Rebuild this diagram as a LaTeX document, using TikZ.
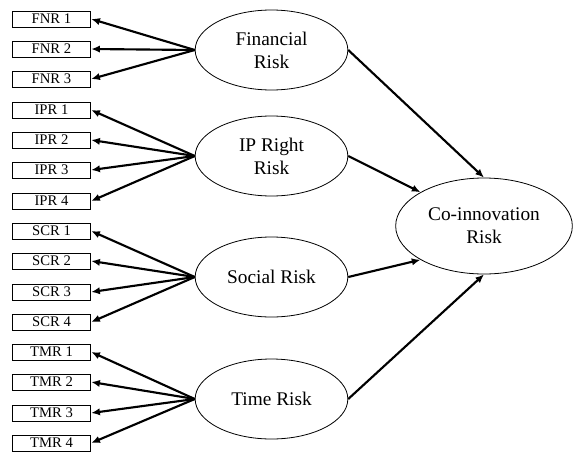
\documentclass[tikz,border=0pt]{standalone}
\usepackage{fontspec}
\setmainfont{Liberation Serif}
\usetikzlibrary{arrows.meta,shapes.geometric}

\begin{document}
\begin{tikzpicture}[x=0.75pt, y=-0.75pt,
    item/.style={draw, line width=0.6pt, minimum width=59pt, minimum height=12pt,
        inner sep=0pt, font=\fontsize{11}{13}\selectfont},
    factor/.style={draw, ellipse, line width=0.6pt, minimum width=114.5pt,
        minimum height=60pt, inner sep=0pt, align=center,
        font=\fontsize{14.5}{17.4}\selectfont},
    load/.style={-{Latex[length=6.5pt, width=5.5pt]}, line width=1.6pt}]
\useasboundingbox (0,0) rectangle (573,453);

\begin{scope}[every node/.style={item}]
    \node (fnr1) at (51.5,19){FNR 1};
    \node (fnr2) at (51.5,49){FNR 2};
    \node (fnr3) at (51.5,79){FNR 3};
    \node (ipr1) at (51.5,110){IPR 1};
    \node (ipr2) at (51.5,140){IPR 2};
    \node (ipr3) at (51.5,170){IPR 3};
    \node (ipr4) at (51.5,201){IPR 4};
    \node (scr1) at (51.5,231){SCR 1};
    \node (scr2) at (51.5,261){SCR 2};
    \node (scr3) at (51.5,292){SCR 3};
    \node (scr4) at (51.5,322){SCR 4};
    \node (tmr1) at (51.5,352){TMR 1};
    \node (tmr2) at (51.5,382){TMR 2};
    \node (tmr3) at (51.5,413){TMR 3};
    \node (tmr4) at (51.5,443){TMR 4};
\end{scope}

\begin{scope}[every node/.style={factor}]
    \node (fin) at (271.5,50){Financial\\Risk};
    \node (ipr) at (271.5,156){IP Right\\Risk};
    \node (soc) at (271.5,277){Social Risk};
    \node (tim) at (271.5,399){Time Risk};
    \node[minimum width=132.5pt, minimum height=72pt] (coi) at (484,226){Co-innovation\\Risk};
\end{scope}

    \path [load] (fin.west) edge (fnr1.east) edge (fnr2.east) edge (fnr3.east);
    \path [load] (ipr.west) edge (ipr1.east) edge (ipr2.east) edge (ipr3.east) edge (ipr4.east);
    \path [load] (soc.west) edge (scr1.east) edge (scr2.east) edge (scr3.east) edge (scr4.east);
    \path [load] (tim.west) edge (tmr1.east) edge (tmr2.east) edge (tmr3.east) edge (tmr4.east);

    \path [load] (fin.east) edge (coi.north);
    \path [load] (ipr.east) edge (coi.152);
    \path [load] (soc.east) edge (coi.208);
    \path [load] (tim.east) edge (coi.south);

\end{tikzpicture}
\end{document}
